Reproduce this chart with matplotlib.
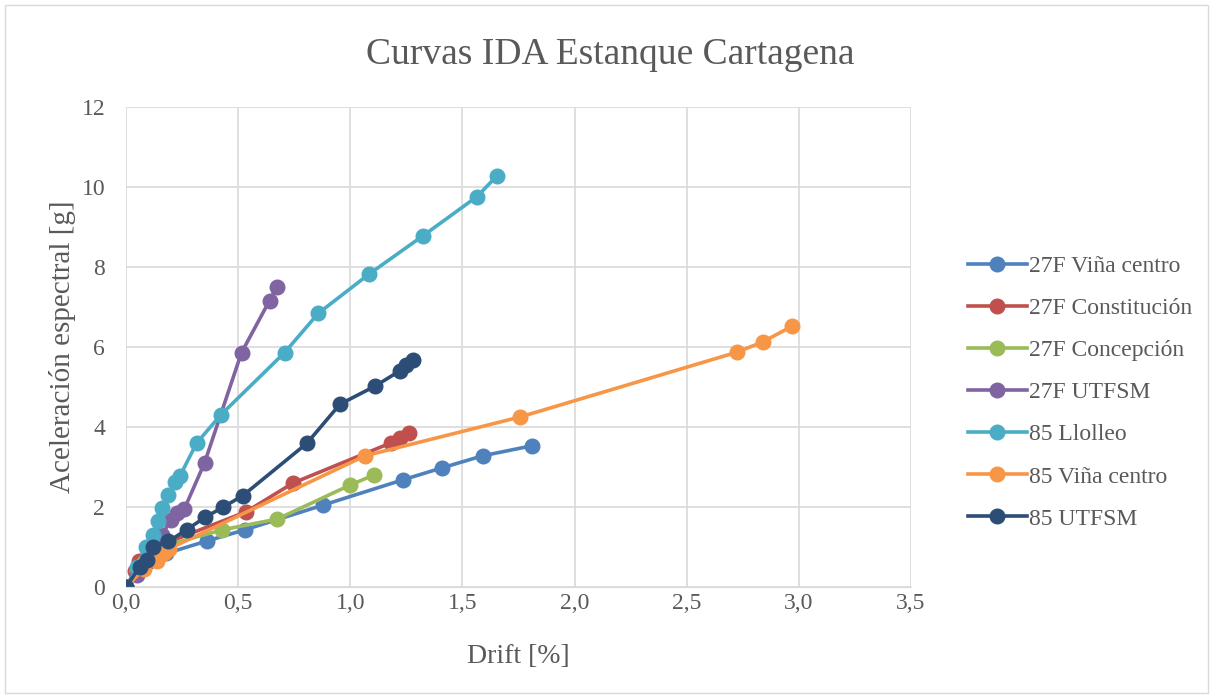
import matplotlib.pyplot as plt

plt.rcParams['font.family'] = ['Liberation Serif', 'DejaVu Serif']

# datos
vina27_x = [0.0, 0.05, 0.10, 0.18, 0.36, 0.53, 0.88, 1.235, 1.41, 1.59, 1.81]
vina27_y = [0.0, 0.35, 0.62, 0.84, 1.15, 1.43, 2.05, 2.68, 2.98, 3.28, 3.53]

const_x = [0.0, 0.04, 0.06, 0.10, 0.18, 0.535, 0.745, 1.18, 1.22, 1.26]
const_y = [0.0, 0.40, 0.66, 0.85, 1.10, 1.88, 2.60, 3.60, 3.73, 3.85]

conc_x = [0.0, 0.05, 0.08, 0.15, 0.43, 0.675, 1.0, 1.105]
conc_y = [0.0, 0.40, 0.62, 1.00, 1.43, 1.70, 2.55, 2.80]

utfsm27_x = [0.0, 0.05, 0.10, 0.16, 0.20, 0.226, 0.26, 0.35, 0.515, 0.64, 0.672]
utfsm27_y = [0.0, 0.30, 0.70, 1.30, 1.67, 1.84, 1.95, 3.10, 5.86, 7.16, 7.50]

llolleo_x = [0.0, 0.05, 0.09, 0.12, 0.144, 0.159, 0.189, 0.218, 0.241, 0.315, 0.424,
             0.707, 0.857, 1.083, 1.324, 1.565, 1.654]
llolleo_y = [0.0, 0.50, 1.00, 1.30, 1.65, 1.98, 2.30, 2.62, 2.78, 3.60, 4.31,
             5.86, 6.84, 7.82, 8.78, 9.76, 10.28]

vina85_x = [0.0, 0.08, 0.14, 0.17, 0.19, 1.066, 1.757, 2.724, 2.84, 2.97]
vina85_y = [0.0, 0.45, 0.65, 0.85, 0.95, 3.28, 4.25, 5.87, 6.13, 6.52]

utfsm85_x = [0.0, 0.062, 0.092, 0.122, 0.189, 0.27, 0.352, 0.434, 0.52, 0.806, 0.954,
             1.11, 1.22, 1.25, 1.28]
utfsm85_y = [0.0, 0.51, 0.68, 1.00, 1.14, 1.43, 1.74, 2.00, 2.28, 3.59, 4.57,
             5.02, 5.40, 5.55, 5.67]

series = [
    ('27F Viña centro', vina27_x, vina27_y, '#4F81BD'),
    ('27F Constitución', const_x, const_y, '#C0504D'),
    ('27F Concepción', conc_x, conc_y, '#9BBB59'),
    ('27F UTFSM', utfsm27_x, utfsm27_y, '#8064A2'),
    ('85 Llolleo', llolleo_x, llolleo_y, '#4BACC6'),
    ('85 Viña centro', vina85_x, vina85_y, '#F79646'),
    ('85 UTFSM', utfsm85_x, utfsm85_y, '#2C4D75'),
]

fig = plt.figure(figsize=(12.13, 6.95), dpi=100)
ax = fig.add_axes([126/1213, 1 - 587/695, 785/1213, 480/695])

for name, xs, ys, c in series:
    ax.plot(xs, ys, '-o', color=c, lw=2.6, ms=10.5, label=name)

ax.set_xlim(0, 3.5)
ax.set_ylim(0, 12)
ax.set_xticks([0, 0.5, 1, 1.5, 2, 2.5, 3, 3.5])
ax.set_xticklabels(['0,0', '0,5', '1,0', '1,5', '2,0', '2,5', '3,0', '3,5'])
ax.set_yticks(range(0, 13, 2))
ax.grid(color='#d9d9d9', lw=1.2)
ax.set_axisbelow(True)
for s in ['top', 'right', 'left']:
    ax.spines[s].set_visible(False)
ax.spines['bottom'].set_color('#d9d9d9')
ax.tick_params(length=0, labelsize=17, colors='#595959')
ax.tick_params(axis='x', pad=4)
ax.tick_params(axis='y', pad=15)

ax.set_xlabel('Drift [%]', fontsize=20, color='#595959', labelpad=22)
ax.set_ylabel('Aceleración espectral [g]', fontsize=21, color='#595959', labelpad=4)
fig.text(0.503, 0.921, 'Curvas IDA Estanque Cartagena', ha='center', va='center',
         fontsize=27, color='#595959')

ax.legend(loc='upper left', bbox_to_anchor=(1.06, 0.71), frameon=False, fontsize=17,
          labelcolor='#595959', handlelength=2.5, labelspacing=0.87, handletextpad=0.1,
          borderaxespad=0)

fig.patches.append(plt.Rectangle((0.004, 0.003), 0.992, 0.99, transform=fig.transFigure,
                                 fill=False, edgecolor='#d9d9d9', lw=1))

fig.savefig('out.png', dpi=100)
